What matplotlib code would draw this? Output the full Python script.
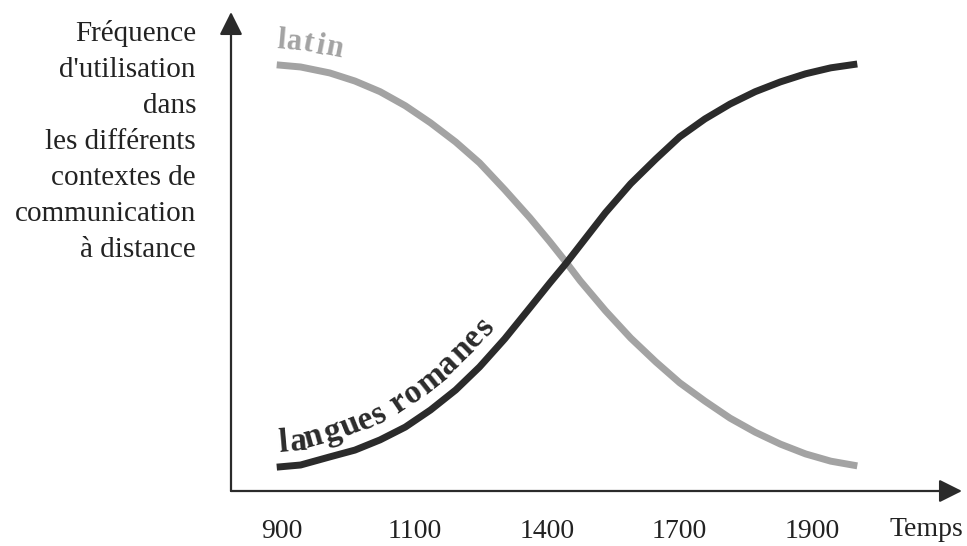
import numpy as np
import matplotlib
matplotlib.use("Agg")
import matplotlib.pyplot as plt
from matplotlib.transforms import IdentityTransform
from matplotlib.font_manager import FontProperties, findfont, get_font

# time axis position (in tick steps) and relative frequency of use
x_pos = [-0.04, 0.14, 0.36, 0.55, 0.74, 0.93, 1.12, 1.31, 1.49, 1.68, 1.87, 2.02, 2.14,
         2.25, 2.44, 2.63, 2.82, 3.00, 3.19, 3.38, 3.57, 3.76, 3.95, 4.14, 4.34]
y_latin = [100.0, 99.5, 98.1, 96.2, 93.7, 90.4, 86.4, 81.9, 77.0, 70.7, 64.1, 58.5, 53.8,
           49.3, 42.3, 35.9, 30.3, 25.4, 21.1, 17.1, 13.8, 11.0, 8.7, 7.0, 5.9]
y_romanes = [5.6, 6.1, 8.0, 9.6, 12.0, 15.0, 19.0, 23.7, 29.1, 35.7, 43.0, 48.8, 53.3,
             57.7, 65.3, 72.1, 77.9, 83.1, 87.3, 90.8, 93.7, 96.0, 97.9, 99.3, 100.2]

tick_labels = ["900", "1100", "1400", "1700", "1900"]

W, H = 967, 546
DPI = 100
plt.rcParams["font.family"] = ["Liberation Serif", "DejaVu Serif"]
GREY = "#a3a3a3"
DARK = "#2b2b2b"
TXT = "#222222"

fig = plt.figure(figsize=(W / DPI, H / DPI), dpi=DPI)
ax = fig.add_axes([231 / W, 1 - 491 / H, (962 - 231) / W, (491 - 12) / H])
ax.set_xlim(-0.385, 5.13)
ax.set_ylim(0, 112.4)

ax.plot(x_pos, y_latin, color=GREY, lw=5, solid_capstyle="butt", solid_joinstyle="round")
ax.plot(x_pos, y_romanes, color=DARK, lw=5, solid_capstyle="butt", solid_joinstyle="round")

for s in ax.spines.values():
    s.set_visible(False)
ax.set_yticks([])
ax.set_xticks(range(len(tick_labels)))
ax.set_xticklabels(tick_labels, fontsize=20, color=TXT)
ax.tick_params(axis="x", length=0, pad=20)

# axes drawn as arrows
arrow = dict(arrowstyle="-|>,head_length=0.7,head_width=0.35", color=DARK,
             lw=1.6, mutation_scale=20, shrinkA=0, shrinkB=0)
ax.annotate("", xy=(0, 1), xytext=(0, 0), xycoords="axes fraction", arrowprops=arrow)
ax.annotate("", xy=(1, 0), xytext=(0, 0), xycoords="axes fraction", arrowprops=arrow)

fig.text(196 / W, 1 - 20 / H,
         "Fréquence\nd'utilisation\ndans\nles différents\ncontextes de\ncommunication\nà distance",
         ha="right", va="top", fontsize=21, color=TXT, linespacing=1.5)
fig.text(963 / W, 1 - 529 / H, "Temps", ha="right", va="center", fontsize=20, color=TXT)


def text_on_curve(xs, ys, label, start, offset, size, color, extra=0.0, track=1.0):
    """write label letter by letter along the plotted curve (display pixels)"""
    pts = ax.transData.transform(np.column_stack([xs, ys]))
    seg = np.diff(pts, axis=0)
    seglen = np.hypot(seg[:, 0], seg[:, 1])
    cum = np.concatenate([[0], np.cumsum(seglen)])

    def at(s):
        k = int(np.clip(np.searchsorted(cum, s) - 1, 0, len(seg) - 1))
        t = (s - cum[k]) / seglen[k]
        return pts[k] + t * seg[k], np.arctan2(seg[k, 1], seg[k, 0])

    prop = FontProperties(family="Liberation Serif", weight="bold", size=size)
    font = get_font(findfont(prop))
    font.set_size(size, DPI)

    pen = 0.0
    for ch in label:
        adv = font.load_char(ord(ch)).linearHoriAdvance / 65536
        s0 = start + track * pen
        pen += adv + extra
        if ch == " ":
            continue
        p, ang = at(s0)
        _, ang_mid = at(s0 + adv / 2)
        normal = np.array([-np.sin(ang), np.cos(ang)])
        q = p + normal * offset
        fig.text(q[0], q[1], ch, transform=IdentityTransform(), fontsize=size,
                 fontweight="bold", color=color, ha="left", va="baseline",
                 rotation=np.degrees(ang_mid), rotation_mode="anchor")


text_on_curve(x_pos, y_romanes, "langues romanes", 4, 15, 24, DARK, extra=1.4, track=1.04)
text_on_curve(x_pos, y_latin, "latin", -2, 17, 22, GREY, extra=1.0, track=1.0)

fig.savefig("out.png", dpi=DPI)
